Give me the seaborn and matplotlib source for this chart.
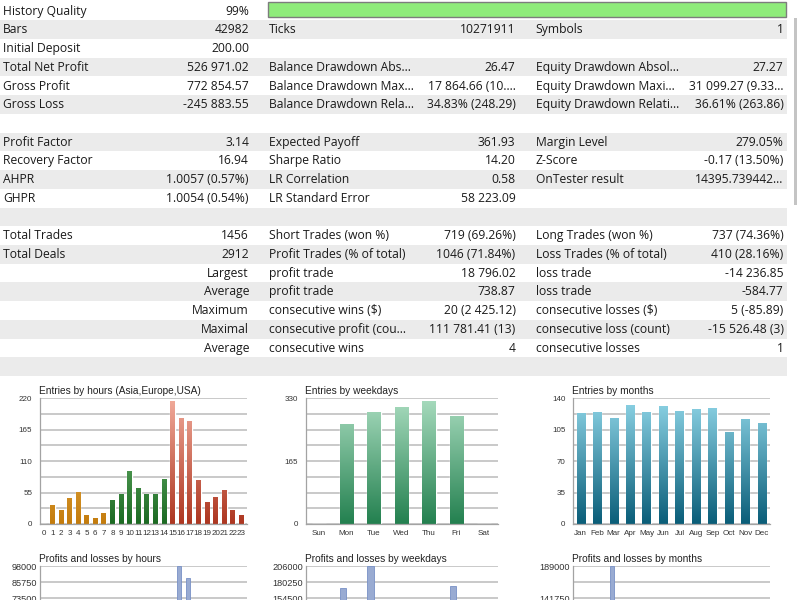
import numpy as np
import pandas as pd
import matplotlib
matplotlib.use("Agg")
import matplotlib.pyplot as plt
import seaborn as sns
from matplotlib.colors import LinearSegmentedColormap
from matplotlib.patches import Rectangle

# report table (three label/value column pairs, one entry per row)
col1_labels = ["History Quality", "Bars", "Initial Deposit", "Total Net Profit", "Gross Profit", "Gross Loss", "",
               "Profit Factor", "Recovery Factor", "AHPR", "GHPR", "",
               "Total Trades", "Total Deals", "", "", "", "", ""]
col1_values = ["99%", "42982", "200.00", "526 971.02", "772 854.57", "-245 883.55", "",
               "3.14", "16.94", "1.0057 (0.57%)", "1.0054 (0.54%)", "",
               "1456", "2912", "Largest", "Average", "Maximum", "Maximal", "Average"]
col2_labels = ["", "Ticks", "", "Balance Drawdown Abs...", "Balance Drawdown Max...", "Balance Drawdown Rela...", "",
               "Expected Payoff", "Sharpe Ratio", "LR Correlation", "LR Standard Error", "",
               "Short Trades (won %)", "Profit Trades (% of total)", "profit trade", "profit trade",
               "consecutive wins ($)", "consecutive profit (cou...", "consecutive wins"]
col2_values = ["", "10271911", "", "26.47", "17 864.66 (10....", "34.83% (248.29)", "",
               "361.93", "14.20", "0.58", "58 223.09", "",
               "719 (69.26%)", "1046 (71.84%)", "18 796.02", "738.87", "20 (2 425.12)", "111 781.41 (13)", "4"]
col3_labels = ["", "Symbols", "", "Equity Drawdown Absol...", "Equity Drawdown Maxi...", "Equity Drawdown Relati...", "",
               "Margin Level", "Z-Score", "OnTester result", "", "",
               "Long Trades (won %)", "Loss Trades (% of total)", "loss trade", "loss trade",
               "consecutive losses ($)", "consecutive loss (count)", "consecutive losses"]
col3_values = ["", "1", "", "27.27", "31 099.27 (9.33...", "36.61% (263.86)", "",
               "279.05%", "-0.17 (13.50%)", "14395.739442...", "", "",
               "737 (74.36%)", "410 (28.16%)", "-14 236.85", "-584.77", "5 (-85.89)", "-15 526.48 (3)", "1"]

# entries charts
hours = list(range(24))
hour_entries = [0, 34, 24, 46, 56, 16, 11, 20, 42, 52, 93, 63, 52, 52, 79, 215, 186, 180, 77, 38, 47, 59, 24, 15]
hour_session = ["Asia"] * 8 + ["Europe"] * 7 + ["USA"] * 9
weekdays = ["Sun", "Mon", "Tue", "Wed", "Thu", "Fri", "Sat"]
weekday_entries = [0, 263, 295, 307, 323, 283, 0]
months = ["Jan", "Feb", "Mar", "Apr", "May", "Jun", "Jul", "Aug", "Sep", "Oct", "Nov", "Dec"]
month_entries = [124, 125, 118, 133, 125, 131, 126, 128, 129, 102, 117, 112]

# profits and losses charts (only the part visible in the screenshot)
pl_hours = [16, 17]
pl_hour_profit = [98000, 89000]
pl_hour_ticks = [98000, 85750, 73500]
pl_weekdays = ["Mon", "Tue", "Fri"]
pl_weekday_profit = [170600, 206000, 173300]
pl_weekday_ticks = [206000, 180250, 154500]
pl_months = ["Mar"]
pl_month_profit = [189000]
pl_month_ticks = [189000, 141750]

W, H = 800, 600
ROW_TOP, ROW_H = 1.6, 18.72
TXT = "#1a1a1a"
GRID = "#c9c9c9"
AXC = "#a3a3a3"

sns.set_theme(style="white")
plt.rcParams["font.family"] = ["Open Sans", "DejaVu Sans"]
CHART_FONT = ["Liberation Sans", "DejaVu Sans"]


def px_axes(fig, x0, y0, x1, y1):
    return fig.add_axes([x0 / W, 1 - y1 / H, (x1 - x0) / W, (y1 - y0) / H])


def style_chart(ax, title, n, xlim, ymax, major, minor, ylab_size=5.8, xlab_size=5.8, ytick_len=3.5,
                show_x=True):
    ax.set_xlim(*xlim)
    ax.set_ylim(0, ymax)
    ax.set_facecolor("none")
    ax.set_yticks(major)
    ax.set_yticks(minor, minor=True)
    ax.set_yticklabels([str(int(v)) for v in major])
    ax.yaxis.grid(True, which="both", color=GRID, lw=1.4)
    ax.set_axisbelow(True)
    for s in ["top", "right"]:
        ax.spines[s].set_visible(False)
    for s in ["left", "bottom"]:
        ax.spines[s].set_color(AXC)
        ax.spines[s].set_linewidth(0.9)
    ax.set_xlabel("")
    ax.set_ylabel("")
    ax.set_xticks(np.arange(n) + 0.5, minor=True)
    ax.tick_params(axis="x", which="major", length=0, pad=4, labelsize=xlab_size, labelcolor="#333333",
                   labelbottom=show_x)
    ax.tick_params(axis="x", which="minor", length=3, width=0.8, color=AXC, direction="out")
    ax.tick_params(axis="y", which="major", length=ytick_len, width=0.8, color=AXC, pad=2,
                   labelsize=ylab_size, labelcolor="#333333")
    ax.tick_params(axis="y", which="minor", length=0)
    for lab in ax.get_xticklabels() + ax.get_yticklabels():
        lab.set_family(CHART_FONT)
    ax.set_title(title, loc="left", pad=3.2, fontsize=7.3, color="#222222", family=CHART_FONT, x=-0.005)


def gradient_bars(ax, cmap_for, ytop):
    grad = np.linspace(1, 0, 256).reshape(-1, 1)
    xl, yl = ax.get_xlim(), ax.get_ylim()
    for patch in list(ax.patches):
        h = patch.get_height()
        if not np.isfinite(h) or h <= 0:
            continue
        x0, w = patch.get_x(), patch.get_width()
        idx = int(round(x0 + w / 2))
        im = ax.imshow(grad, cmap=cmap_for(idx), extent=[x0, x0 + w, 0, ytop], aspect="auto",
                       origin="upper", interpolation="bilinear", zorder=patch.get_zorder() + 0.1)
        im.set_clip_path(patch)
    ax.set_xlim(*xl)
    ax.set_ylim(*yl)


def ramp(bottom, top):
    return LinearSegmentedColormap.from_list("", [bottom, top])


fig = plt.figure(figsize=(8, 6), dpi=100)
bg = fig.add_axes([0, 0, 1, 1])
bg.set_xlim(0, W)
bg.set_ylim(H, 0)
bg.axis("off")

# table rows
n_rows = len(col1_labels)
for i in range(n_rows):
    top = ROW_TOP + ROW_H * i
    if i % 2 == 1:
        bg.add_patch(Rectangle((0, top), 787, ROW_H, facecolor="#ebebeb", edgecolor="none"))
    yc = top + ROW_H / 2 + 0.2
    for xl, xv, labs, vals in [(3, 249, col1_labels, col1_values),
                               (269, 515.5, col2_labels, col2_values),
                               (535.5, 783.5, col3_labels, col3_values)]:
        if labs[i]:
            bg.text(xl, yc, labs[i], ha="left", va="center", fontsize=8.7, color=TXT)
        if vals[i]:
            bg.text(xv, yc, vals[i], ha="right", va="center", fontsize=8.7, color=TXT)
bg.add_patch(Rectangle((0, ROW_TOP + ROW_H * n_rows), 787, 19.2, facecolor="#ebebeb", edgecolor="none"))
# history quality bar
bg.add_patch(Rectangle((267.5, 1.8), 518, 15.4, facecolor="#8fec7b", edgecolor="#7d7d7d", lw=1))
# scrollbar thumb
bg.add_patch(Rectangle((793.5, 18), 3, 187, facecolor="#c4c4c4", edgecolor="none"))

# entries by hours
ax = px_axes(fig, 40, 398.3, 247, 524)
sns.barplot(x=hours, y=hour_entries, hue=hour_session, dodge=False, width=0.55,
            palette=["#d8961f", "#2f8a35", "#c4523a"], legend=False, ax=ax)
style_chart(ax, "Entries by hours (Asia,Europe,USA)", 24, (-0.43, 23.66), 220,
            np.arange(0, 221, 55), np.arange(0, 221, 27.5))
ax.set_xticklabels([str(h) for h in hours], family=CHART_FONT)
session_maps = {"Asia": ramp("#c47c0d", "#f6c86a"), "Europe": ramp("#1b6a22", "#86c986"),
                "USA": ramp("#ad3620", "#f1ab9b")}
gradient_bars(ax, lambda i: session_maps[hour_session[i]], 220)

# entries by weekdays
ax = px_axes(fig, 306, 398.3, 498, 524)
sns.barplot(x=weekdays, y=weekday_entries, order=weekdays, width=0.48, color="#4fa877", ax=ax)
style_chart(ax, "Entries by weekdays", 7, (-0.47, 6.51), 330,
            np.arange(0, 331, 165), np.arange(0, 331, 41.25))
wd_map = ramp("#23804f", "#a9dcbf")
gradient_bars(ax, lambda i: wd_map, 330)

# entries by months
ax = px_axes(fig, 573, 398.3, 770, 524)
sns.barplot(x=months, y=month_entries, order=months, width=0.5, color="#2f93ad", ax=ax)
style_chart(ax, "Entries by months", 12, (-0.47, 11.48), 140,
            np.arange(0, 141, 35), np.arange(0, 141, 17.5))
mo_map = ramp("#0a5d78", "#8fd5e7")
gradient_bars(ax, lambda i: mo_map, 140)

# profits and losses (cut by the window edge)
pl_pal = {"Profit": "#8fa8dc", "Loss": "#e08e8e"}
ax = px_axes(fig, 40, 566, 247, 694)
sns.barplot(x=pl_hours, y=pl_hour_profit, hue=["Profit"] * len(pl_hours), hue_order=["Profit", "Loss"],
            order=hours, dodge=True, width=0.9, palette=pl_pal, edgecolor="#7891c6", linewidth=0.6,
            legend=False, ax=ax)
style_chart(ax, "Profits and losses by hours", 24, (-0.43, 23.66), 98000,
            pl_hour_ticks, np.arange(0, 98001, 12250), ylab_size=6.6, ytick_len=0, show_x=False)

ax = px_axes(fig, 306, 566, 498, 694)
sns.barplot(x=pl_weekdays, y=pl_weekday_profit, hue=["Profit"] * len(pl_weekdays), hue_order=["Profit", "Loss"],
            order=weekdays, dodge=True, width=0.5, palette=pl_pal, edgecolor="#7891c6", linewidth=0.6,
            legend=False, ax=ax)
style_chart(ax, "Profits and losses by weekdays", 7, (-0.47, 6.51), 206000,
            pl_weekday_ticks, np.arange(0, 206001, 25750), ylab_size=6.6, ytick_len=0, show_x=False)

ax = px_axes(fig, 573, 566, 770, 694)
sns.barplot(x=pl_months, y=pl_month_profit, hue=["Profit"] * len(pl_months), hue_order=["Profit", "Loss"],
            order=months, dodge=True, width=0.5, palette=pl_pal, edgecolor="#7891c6", linewidth=0.6,
            legend=False, ax=ax)
style_chart(ax, "Profits and losses by months", 12, (-0.47, 11.48), 189000,
            pl_month_ticks, np.arange(0, 189001, 23625), ylab_size=6.6, ytick_len=0, show_x=False)

fig.savefig("out.png", dpi=100)
